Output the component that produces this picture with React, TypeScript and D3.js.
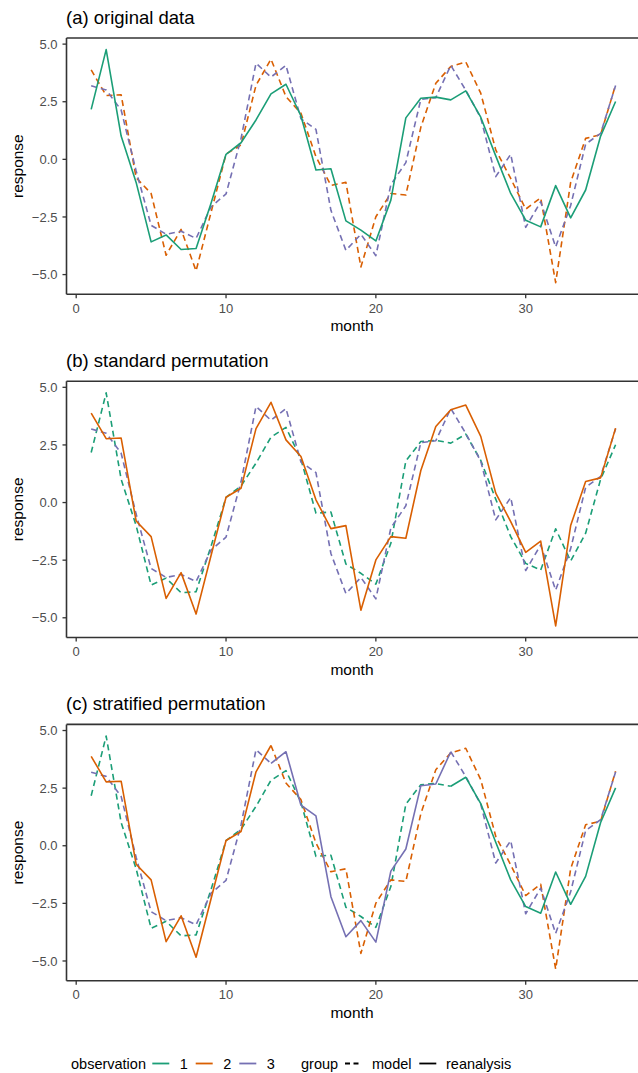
import React from 'react';
import * as d3 from 'd3';

// months 1..36
const months = [
  1, 2, 3, 4, 5, 6, 7, 8, 9, 10, 11, 12,
  13, 14, 15, 16, 17, 18, 19, 20, 21, 22, 23, 24,
  25, 26, 27, 28, 29, 30, 31, 32, 33, 34, 35, 36,
];

// observation series
const obs1 = [
  2.17, 4.76, 1.01, -1.0, -3.58, -3.28, -3.91, -3.87, -1.9, 0.22, 0.72, 1.71,
  2.84, 3.26, 1.88, -0.46, -0.41, -2.67, -3.07, -3.54, -1.77, 1.8, 2.65, 2.7,
  2.58, 2.97, 1.83, 0.15, -1.48, -2.64, -2.93, -1.14, -2.54, -1.33, 1.01, 2.51,
];
const obs2 = [
  3.88, 2.77, 2.8, -0.8, -1.48, -4.16, -3.04, -4.84, -2.3, 0.23, 0.62, 3.21,
  4.35, 2.72, 2.0, 0.12, -1.13, -1.0, -4.67, -2.49, -1.48, -1.55, 1.39, 3.3,
  4.03, 4.23, 2.87, 0.41, -0.83, -2.16, -1.67, -5.35, -1.0, 0.91, 1.07, 3.23,
];
const obs3 = [
  3.19, 3.01, 2.14, -0.5, -2.86, -3.25, -3.12, -3.43, -2.06, -1.5, 0.9, 4.17,
  3.57, 4.08, 1.76, 1.3, -2.21, -3.95, -3.25, -4.18, -1.1, -0.14, 2.6, 2.68,
  4.08, 3.0, 1.8, -0.75, 0.22, -2.95, -1.84, -3.8, -2.0, 0.66, 1.13, 3.2,
];

const seriesNames = ['1', '2', '3'];
const seriesValues = [obs1, obs2, obs3];
const colors = ['#1B9E77', '#D95F02', '#7570B3'];

const panelTitles = ['(a) original data', '(b) standard permutation', '(c) stratified permutation'];
const yTicks = [-5, -2.5, 0, 2.5, 5];
const xTicks = [0, 10, 20, 30];

// [series index, first month, last month, dashed]
type Seg = [number, number, number, boolean];
const panelSegments: Seg[][] = [
  [[1, 1, 36, true], [2, 1, 36, true], [0, 1, 36, false]],
  [[0, 1, 36, true], [2, 1, 36, true], [1, 1, 36, false]],
  [
    [0, 1, 25, true], [1, 13, 36, true], [2, 1, 13, true], [2, 25, 36, true],
    [1, 1, 13, false], [2, 13, 25, false], [0, 25, 36, false],
  ],
];

const W = 638;
const H = 1073;
const left = 66.5;
const panelTop0 = 38;
const panelH = 256.3;
const panelStep = 343.2;
const font = '"Liberation Sans", Arial, Helvetica, sans-serif';
const axisCol = '#333333';
const tickTextCol = '#4D4D4D';

export default function App() {
  const all = [...obs1, ...obs2, ...obs3];
  const [lo, hi] = d3.extent(all) as [number, number];
  const pad = (hi - lo) * 0.05;

  const x = d3.scaleLinear().domain([0, 30]).range([76.2, 525.7]);

  return (
    <svg
      width={W}
      height={H}
      style={{ position: 'absolute', left: 0, top: 0, background: '#fff', fontFamily: font }}
    >
      <rect x={0} y={0} width={W} height={H} fill="#fff" />
      {panelSegments.map((segs, p) => {
        const top = panelTop0 + p * panelStep;
        const bottom = top + panelH;
        const y = d3.scaleLinear().domain([lo - pad, hi + pad]).range([bottom, top]);
        const line = d3
          .line<number>()
          .x((_, i) => 0)
          .y(d => d);
        return (
          <g key={p}>
            <text x={left - 0.5} y={top - 14} fontSize={18.5} fill="#000">
              {panelTitles[p]}
            </text>
            {/* panel frame: top line, axes */}
            <line x1={left} x2={W + 2} y1={top} y2={top} stroke={axisCol} strokeWidth={1.6} />
            <line x1={left} x2={left} y1={top} y2={bottom} stroke={axisCol} strokeWidth={1.6} />
            <line x1={left} x2={W + 2} y1={bottom} y2={bottom} stroke={axisCol} strokeWidth={1.6} />
            {segs.map(([s, a, b, dashed], k) => {
              const pts = months
                .map((m, i) => [m, seriesValues[s][i]] as [number, number])
                .filter(([m]) => m >= a && m <= b);
              const path = d3
                .line<[number, number]>()
                .x(d => x(d[0]))
                .y(d => y(d[1]))(pts);
              return (
                <path
                  key={k}
                  d={path || ''}
                  fill="none"
                  stroke={colors[s]}
                  strokeWidth={1.6}
                  strokeDasharray={dashed ? '6 4' : undefined}
                  strokeLinejoin="round"
                />
              );
            })}
            {yTicks.map(t => (
              <g key={t}>
                <line x1={left - 4} x2={left} y1={y(t)} y2={y(t)} stroke={axisCol} strokeWidth={1.3} />
                <text
                  x={left - 9}
                  y={y(t)}
                  dy="0.36em"
                  textAnchor="end"
                  fontSize={13}
                  fill={tickTextCol}
                >
                  {d3.format('.1f')(t).replace('-', '\u2212')}
                </text>
              </g>
            ))}
            {xTicks.map(t => (
              <g key={t}>
                <line x1={x(t)} x2={x(t)} y1={bottom} y2={bottom + 4} stroke={axisCol} strokeWidth={1.3} />
                <text x={x(t)} y={bottom + 18.5} textAnchor="middle" fontSize={13} fill={tickTextCol}>
                  {t}
                </text>
              </g>
            ))}
            <text x={352} y={bottom + 37} textAnchor="middle" fontSize={15.5} fill="#000">
              month
            </text>
            <text
              transform={`translate(${23},${(top + bottom) / 2}) rotate(-90)`}
              textAnchor="middle"
              fontSize={15.5}
              fill="#000"
            >
              response
            </text>
          </g>
        );
      })}
      {/* legend */}
      <g fontSize={14.5} fill="#000">
        <text x={71} y={1063.5} dy="0.35em">observation</text>
        {seriesNames.map((n, i) => {
          const kx = [152.3, 195.7, 239.3][i];
          return (
            <g key={n}>
              <line x1={kx} x2={kx + 17} y1={1063.5} y2={1063.5} stroke={colors[i]} strokeWidth={1.8} />
              <text x={kx + 27.5} y={1063.5} dy="0.35em">{n}</text>
            </g>
          );
        })}
        <text x={301} y={1063.5} dy="0.35em">group</text>
        <line x1={345} x2={362} y1={1063.5} y2={1063.5} stroke="#000" strokeWidth={1.8} strokeDasharray="5 3.5" />
        <text x={372} y={1063.5} dy="0.35em">model</text>
        <line x1={419.3} x2={436.3} y1={1063.5} y2={1063.5} stroke="#000" strokeWidth={1.8} />
        <text x={446} y={1063.5} dy="0.35em">reanalysis</text>
      </g>
    </svg>
  );
}
